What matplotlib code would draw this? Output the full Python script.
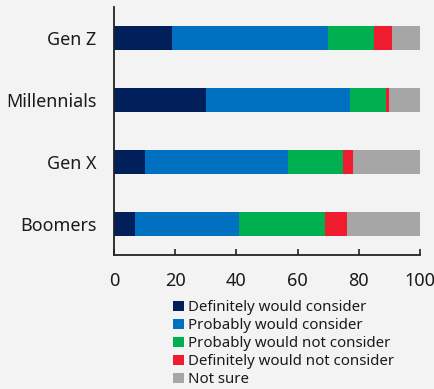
import matplotlib
matplotlib.use("Agg")
import matplotlib.pyplot as plt
import numpy as np

plt.rcParams['font.family'] = ['Noto Sans', 'DejaVu Sans']

generations = ["Gen Z", "Millennials", "Gen X", "Boomers"]
series_names = [
    "Definitely would consider",
    "Probably would consider",
    "Probably would not consider",
    "Definitely would not consider",
    "Not sure",
]
definitely_consider = [19, 30, 10, 7]
probably_consider = [51, 47, 47, 34]
probably_not = [15, 12, 18, 28]
definitely_not = [6, 1, 3, 7]
not_sure = [9, 10, 22, 24]
x_ticks = [0, 20, 40, 60, 80, 100]

colors = ["#001f5b", "#0070c0", "#00b050", "#ee1c2e", "#a6a6a6"]
bg = "#f3f3f3"
text_col = "#1a1a1a"

fig = plt.figure(figsize=(4.34, 3.89), dpi=100, facecolor=bg)
ax = fig.add_axes([114 / 434, 1 - 255 / 389, 306 / 434, 248 / 389], facecolor=bg)

ypos = np.arange(len(generations))
left = np.zeros(len(generations))
handles = []
for name, vals, col in zip(series_names,
                           [definitely_consider, probably_consider, probably_not,
                            definitely_not, not_sure], colors):
    b = ax.barh(ypos, vals, left=left, height=0.4, color=col, label=name)
    left += np.array(vals)
    handles.append(b)

ax.set_ylim(3.5, -0.5)
ax.set_xlim(0, 100)
ax.set_yticks(ypos)
ax.set_yticklabels(generations, fontsize=12.9, color=text_col)
ax.set_xticks(x_ticks)
ax.set_xticklabels([str(t) for t in x_ticks], fontsize=13, color=text_col)
ax.tick_params(axis='y', length=0, pad=12.5)
ax.tick_params(axis='x', direction='in', length=4, width=1.2, pad=12, color="#222222")
for s in ["top", "right"]:
    ax.spines[s].set_visible(False)
for s in ["left", "bottom"]:
    ax.spines[s].set_color("#222222")
    ax.spines[s].set_linewidth(1.3)

leg = fig.legend(handles, series_names, loc="upper left",
                 bbox_to_anchor=(167 / 434, 1 - 294 / 389),
                 frameon=False, fontsize=10.8, handlelength=0.7, handleheight=0.7,
                 handletextpad=0.3, labelspacing=0.2, borderaxespad=0,
                 labelcolor=text_col)

fig.savefig("out.png", dpi=100, facecolor=bg)
